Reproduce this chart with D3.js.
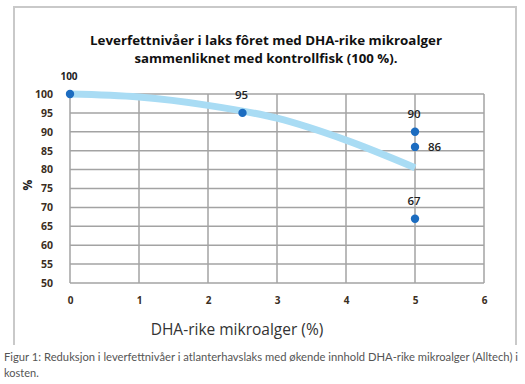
<!DOCTYPE html>
<html><head><meta charset="utf-8">
<script src="https://cdn.jsdelivr.net/npm/d3@7"></script>
<style>
html,body{margin:0;padding:0;background:#fff;}
svg{display:block;}
</style></head>
<body>
<svg id="c" width="525" height="384"></svg>
<script>
// ---- data ----
const xTicks = [0, 1, 2, 3, 4, 5, 6];
const yTicks = [50, 55, 60, 65, 70, 75, 80, 85, 90, 95, 100];
const pointX = [0, 2.5, 5, 5, 5];
const pointY = [100, 95, 90, 86, 67];
const pointLabels = ["100", "95", "90", "86", "67"];
const trendX = [0, 1, 2, 3, 4, 5];
const trendY = [100, 99.2, 97, 93.6, 87.8, 80.5];
const titleLines = ["Leverfettnivåer i laks fôret med DHA-rike mikroalger", "sammenliknet med kontrollfisk (100 %)."];
const xTitle = "DHA-rike mikroalger (%)";
const yTitle = "%";
const captionLines = ["Figur 1: Reduksjon i leverfettnivåer i atlanterhavslaks med økende innhold DHA-rike mikroalger (Alltech) i", "kosten."];

const svg = d3.select("#c");
const x = d3.scaleLinear().domain([0, 6]).range([70, 484]);
const y = d3.scaleLinear().domain([50, 100]).range([283, 94]);

// frame
svg.append("path").attr("d", "M14,345 L14,7 L516,7 L516,345")
  .attr("fill", "none").attr("stroke", "#c9c9c9").attr("stroke-width", 2);

// title
svg.selectAll("text.title").data(titleLines).enter().append("text")
  .attr("x", 266).attr("y", (d, i) => 45 + i * 18)
  .attr("text-anchor", "middle")
  .style("font-family", "'Open Sans', sans-serif").style("font-weight", "bold")
  .style("font-size", "13px").attr("fill", "#111")
  .attr("textLength", (d, i) => i === 0 ? 352 : 263).attr("lengthAdjust", "spacingAndGlyphs")
  .text(d => d);

// grid
const g = svg.append("g");
g.selectAll("line.h").data(yTicks).enter().append("line")
  .attr("x1", x(0)).attr("x2", x(6)).attr("y1", d => y(d)).attr("y2", d => y(d))
  .attr("stroke", "#a3a3a3").attr("stroke-width", 1.5);
g.selectAll("line.v").data(xTicks).enter().append("line")
  .attr("y1", y(50)).attr("y2", y(100)).attr("x1", d => x(d)).attr("x2", d => x(d))
  .attr("stroke", "#a3a3a3").attr("stroke-width", 1.5);

// axes (labels only)
const yAxis = svg.append("g").attr("transform", `translate(${x(0)},0)`)
  .call(d3.axisLeft(y).tickValues(yTicks).tickSize(0).tickPadding(17).tickFormat(d3.format("d")));
yAxis.select(".domain").remove();
yAxis.selectAll("text").style("font-family", "'Open Sans', sans-serif").style("font-weight", "bold")
  .style("font-size", "10.5px").attr("fill", "#3b2e22");

const xAxis = svg.append("g").attr("transform", `translate(0,${y(50)})`)
  .call(d3.axisBottom(x).tickValues(xTicks).tickSize(0).tickPadding(14).tickFormat(d3.format("d")));
xAxis.select(".domain").remove();
xAxis.selectAll("text").style("font-family", "'Open Sans', sans-serif").style("font-weight", "bold")
  .style("font-size", "10px").attr("fill", "#3b2e22");

// axis titles
svg.append("text").attr("transform", "translate(32,185) rotate(-90)")
  .attr("text-anchor", "middle")
  .style("font-family", "'Open Sans', sans-serif").style("font-weight", "bold")
  .style("font-size", "12px").attr("fill", "#222").text(yTitle);
svg.append("text").attr("x", 237).attr("y", 335).attr("text-anchor", "middle")
  .style("font-family", "'Open Sans', sans-serif").style("font-size", "15.5px")
  .attr("fill", "#333").text(xTitle);

// trend line
const trend = trendX.map((d, i) => [d, trendY[i]]);
svg.append("path").datum(trend)
  .attr("d", d3.line().x(d => x(d[0])).y(d => y(d[1])).curve(d3.curveMonotoneX))
  .attr("fill", "none").attr("stroke", "#a9dcf4").attr("stroke-width", 7)
  .attr("stroke-linecap", "butt");

// points
const pts = pointX.map((d, i) => ({x: d, y: pointY[i], l: pointLabels[i]}));
svg.selectAll("circle.p").data(pts).enter().append("circle")
  .attr("cx", d => x(d.x)).attr("cy", d => y(d.y)).attr("r", 4.2).attr("fill", "#1c6cc0");

// point labels
svg.selectAll("text.pl").data(pts).enter().append("text")
  .attr("x", d => d.l === "86" ? x(d.x) + 13 : x(d.x) - 1)
  .attr("y", d => d.l === "86" ? y(d.y) + 4 : y(d.y) - 14)
  .attr("text-anchor", d => d.l === "86" ? "start" : "middle")
  .style("font-family", "'Open Sans', sans-serif")
  .style("font-weight", d => d.l === "100" ? "bold" : "600")
  .style("font-size", d => d.l === "100" ? "10px" : "11.5px")
  .attr("fill", "#222").text(d => d.l);

// caption
svg.selectAll("text.cap").data(captionLines).enter().append("text")
  .attr("x", 4).attr("y", (d, i) => 361 + i * 16)
  .style("font-family", "'Source Sans Pro', Lato, sans-serif").style("font-size", "11px")
  .attr("fill", "#555")
  .each(function(d, i) { if (i === 0) d3.select(this).attr("textLength", 514).attr("lengthAdjust", "spacingAndGlyphs"); })
  .text(d => d);
</script>
</body></html>
